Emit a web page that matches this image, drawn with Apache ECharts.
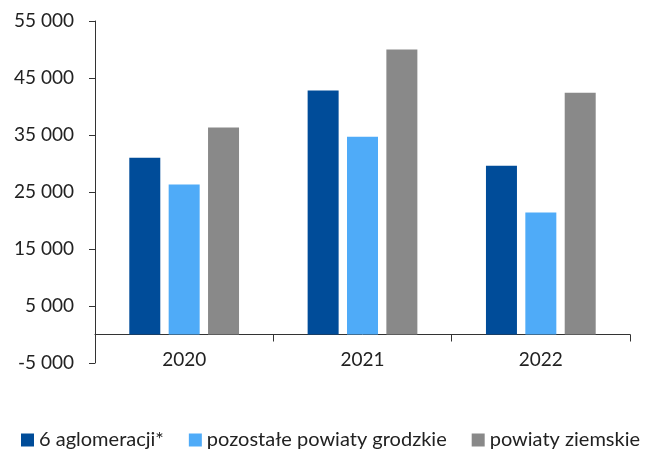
<!DOCTYPE html>
<html>
<head>
<meta charset="utf-8">
<script src="https://cdn.jsdelivr.net/npm/echarts@6/dist/echarts.min.js"></script>
<style>
  html, body { margin: 0; padding: 0; background: #fff; }
  #chart { width: 646px; height: 450px; }
</style>
</head>
<body>
<div id="chart"></div>
<script>
// Years on the category axis
const years = ['2020', '2021', '2022'];

// Series names and values
const seriesNames = ['6 aglomeracji*', 'pozostałe powiaty grodzkie', 'powiaty ziemskie'];
const aglomeracje = [31000, 42800, 29600];
const grodzkie = [26300, 34700, 21400];
const ziemskie = [36300, 50000, 42400];

// Value axis range
const yMin = -5000;
const yMax = 55000;
const yStep = 10000;

const colors = ['#004C99', '#4FABF8', '#898989'];
const font = 'Lato, "Noto Sans", sans-serif';

function fmt(v) {
  const s = Math.abs(v).toString().replace(/\B(?=(\d{3})+(?!\d))/g, ' ');
  return (v < 0 ? '-' : '') + s;
}

const chart = echarts.init(document.getElementById('chart'), null, { renderer: 'canvas' });

const values = [aglomeracje, grodzkie, ziemskie];

chart.setOption({
  animation: false,
  color: colors,
  textStyle: { fontFamily: font },
  grid: { left: 95, right: 16, top: 21, bottom: 87, containLabel: false },
  legend: {
    left: 21,
    top: 428,
    width: 700,
    padding: 0,
    icon: 'rect',
    itemWidth: 13,
    itemHeight: 13,
    itemGap: 25,
    textStyle: { fontFamily: font, fontSize: 20, lineHeight: 24, color: '#222' },
    data: seriesNames
  },
  xAxis: {
    type: 'category',
    data: years,
    axisLine: { onZero: true, lineStyle: { color: '#333', width: 1 } },
    axisTick: { show: true, inside: false, length: 7, alignWithLabel: false, lineStyle: { color: '#333' } },
    axisLabel: { fontFamily: font, fontSize: 19, color: '#222', margin: -13 }
  },
  yAxis: {
    type: 'value',
    min: yMin,
    max: yMax,
    interval: yStep,
    axisLine: { show: true, lineStyle: { color: '#333', width: 1 } },
    axisTick: { show: true, inside: false, length: 6, lineStyle: { color: '#333' } },
    splitLine: { show: false },
    axisLabel: { fontFamily: font, fontSize: 19, color: '#222', margin: 21, formatter: fmt }
  },
  series: seriesNames.map((name, i) => ({
    name: name,
    type: 'bar',
    data: values[i],
    barWidth: 31,
    barGap: '27%',
    itemStyle: { color: colors[i] }
  }))
});
</script>
</body>
</html>
